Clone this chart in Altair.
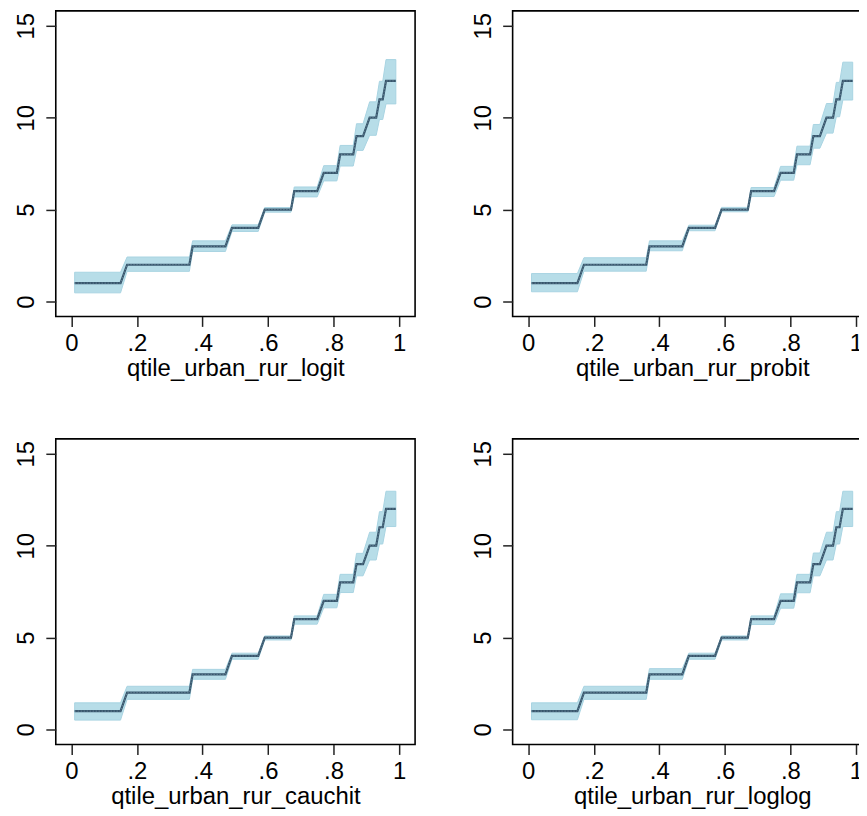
import altair as alt
import pandas as pd

# Step levels of the predicted quantile and the percentile range of each step
levels = [1, 2, 3, 4, 5, 6, 7, 8, 9, 10, 11, 12]
q_start = [0.01, 0.17, 0.37, 0.49, 0.59, 0.68, 0.77, 0.82, 0.87, 0.91, 0.94, 0.96]
q_end = [0.15, 0.36, 0.47, 0.57, 0.67, 0.75, 0.81, 0.86, 0.89, 0.93, 0.95, 0.99]

models = ["logit", "probit", "cauchit", "loglog"]

# Confidence band (lower / upper) for each step, per model
lo_logit = [0.47, 1.64, 2.72, 3.81, 4.86, 5.69, 6.56, 7.37, 8.22, 9.04, 9.90, 10.75]
hi_logit = [1.59, 2.42, 3.30, 4.17, 5.11, 6.23, 7.39, 8.49, 9.67, 10.86, 11.98, 13.16]
lo_probit = [0.53, 1.65, 2.76, 3.85, 4.88, 5.71, 6.60, 7.44, 8.34, 9.16, 10.05, 10.96]
hi_probit = [1.52, 2.38, 3.30, 4.15, 5.12, 6.20, 7.35, 8.45, 9.63, 10.77, 11.92, 13.02]
lo_cauchit = [0.51, 1.64, 2.73, 3.82, 4.87, 5.73, 6.62, 7.45, 8.36, 9.22, 10.09, 11.04]
hi_cauchit = [1.45, 2.35, 3.27, 4.15, 5.09, 6.18, 7.35, 8.44, 9.58, 10.73, 11.85, 12.96]
lo_loglog = [0.53, 1.64, 2.73, 3.82, 4.87, 5.71, 6.60, 7.44, 8.36, 9.22, 10.09, 11.04]
hi_loglog = [1.45, 2.35, 3.31, 4.15, 5.09, 6.18, 7.38, 8.44, 9.60, 10.73, 11.85, 12.96]

x_ticks = [0, 0.2, 0.4, 0.6, 0.8, 1]
y_ticks = [0, 5, 10, 15]

bands = {
    "logit": (lo_logit, hi_logit),
    "probit": (lo_probit, hi_probit),
    "cauchit": (lo_cauchit, hi_cauchit),
    "loglog": (lo_loglog, hi_loglog),
}

rows = []
for m in models:
    lo, hi = bands[m]
    for i, lv in enumerate(levels):
        for q in (q_start[i], q_end[i]):
            rows.append(dict(model=m, q=q, y=lv, lo=lo[i], hi=hi[i]))
df = pd.DataFrame(rows)

FONT = "Liberation Sans"
xscale = alt.Scale(domain=[-0.0476, 1.0487], nice=False, zero=False)
yscale = alt.Scale(domain=[-0.813, 15.81], nice=False, zero=False)


def panel(m):
    base = alt.Chart(df).transform_filter(alt.datum.model == m)
    x = alt.X(
        "q:Q",
        scale=xscale,
        axis=alt.Axis(
            values=x_ticks,
            labelExpr="datum.value == 0 ? '0' : datum.value == 1 ? '1' : '.' + round(datum.value*10)",
            title=f"qtile_urban_rur_{m}",
            labelBaseline="top",
            labelPadding=5,
            titlePadding=1,
        ),
    )
    yaxis = alt.Axis(
        values=y_ticks,
        title=None,
        labelAngle=270,
        labelAlign="center",
        labelBaseline="alphabetic",
        labelPadding=12,
    )
    band = base.mark_area(color="#b7dde8", stroke="#a8d4e2", strokeWidth=1).encode(
        x=x, y=alt.Y("lo:Q", scale=yscale, axis=yaxis), y2="hi:Q"
    )
    line = base.mark_line(color="#37566c", strokeWidth=2.2).encode(
        x=x, y=alt.Y("y:Q", scale=yscale, axis=yaxis)
    )
    dots = base.mark_line(color="#6f8a9c", strokeWidth=0.8, strokeDash=[1.5, 1.5]).encode(
        x=x, y=alt.Y("y:Q", scale=yscale, axis=yaxis)
    )
    return alt.layer(band, line, dots).properties(width=361, height=307)


chart = (
    alt.concat(*[panel(m) for m in models], columns=2,
               spacing=alt.RowColnumber(row=123, column=98))
    .properties(bounds="flush", background="white",
                padding={"top": 0, "left": 6, "right": -14, "bottom": 0})
    .configure_view(stroke="black", strokeWidth=1.6, fill="white")
    .configure_axis(
        labelFont=FONT,
        labelFontSize=24,
        labelColor="black",
        titleFont=FONT,
        titleFontSize=24,
        titleFontWeight="normal",
        titleColor="black",
        tickSize=10,
        tickColor="#222222",
        tickWidth=1.5,
        domain=False,
        grid=False,
    )
)

chart.save("out.html", embed_options={"renderer": "svg", "actions": False})
